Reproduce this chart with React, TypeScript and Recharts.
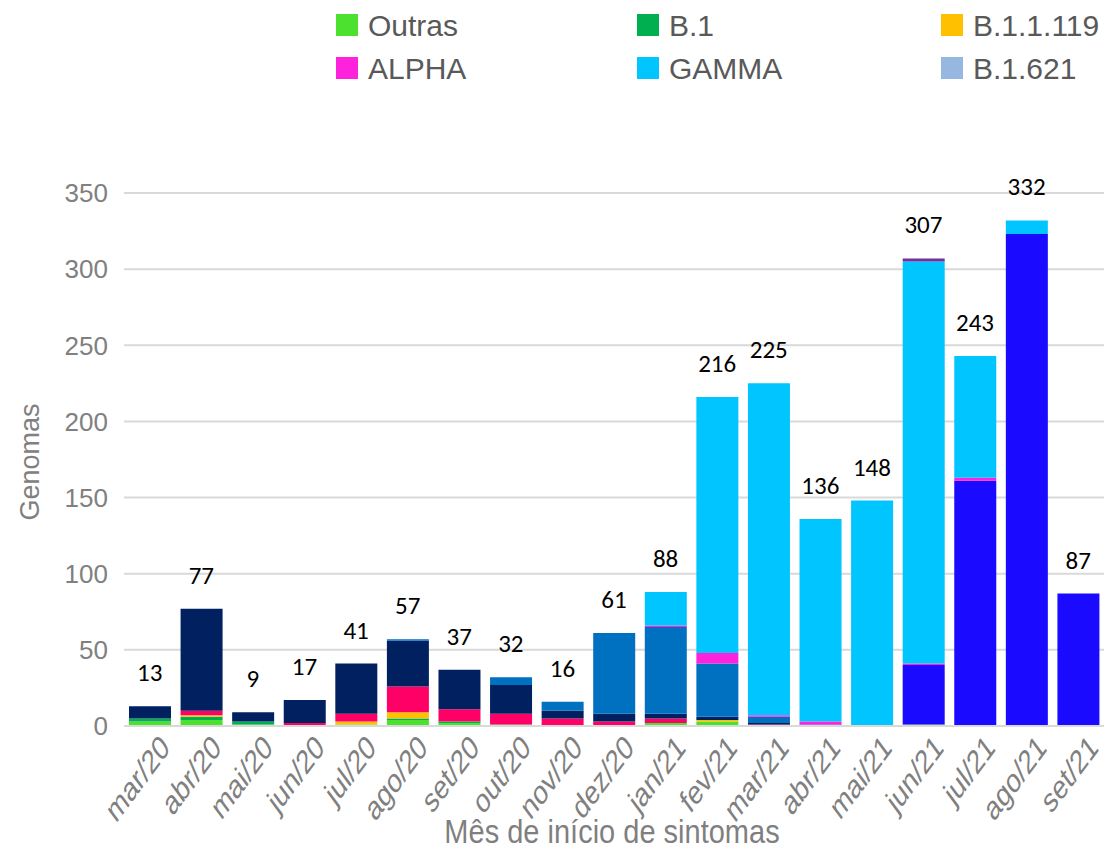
import { ComposedChart, Bar, Line, XAxis, YAxis, CartesianGrid, LabelList } from "recharts";

const months = [
  "mar/20", "abr/20", "mai/20", "jun/20", "jul/20", "ago/20", "set/20", "out/20", "nov/20", "dez/20",
  "jan/21", "fev/21", "mar/21", "abr/21", "mai/21", "jun/21", "jul/21", "ago/21", "set/21",
];

// values per lineage, in stacking order (bottom first)
const outras = [3, 4, 1, 0, 1, 4, 2, 1, 0, 0, 2, 3, 0, 0, 0, 1, 0, 0, 0];
const b1 = [2, 2, 2, 0, 0, 1, 1, 0, 0, 0, 0, 0, 0, 0, 0, 0, 0, 0, 0];
const b11119 = [0, 1, 0, 0, 2, 4, 0, 0, 0, 0, 0, 1, 0, 0, 0, 0, 0, 0, 0];
const b1128 = [0, 3, 0, 2, 5, 17, 8, 7, 5, 3, 3, 0, 1, 0, 0, 0, 0, 0, 0];
const b1133 = [8, 67, 6, 15, 33, 30, 26, 19, 5, 5, 3, 2, 1, 0, 0, 0, 0, 0, 0];
const p2 = [0, 0, 0, 0, 0, 1, 0, 5, 6, 53, 57, 35, 4, 1, 0, 0, 0, 0, 0];
const delta = [0, 0, 0, 0, 0, 0, 0, 0, 0, 0, 0, 0, 0, 0, 0, 39, 161, 323, 87];
const alpha = [0, 0, 0, 0, 0, 0, 0, 0, 0, 0, 1, 7, 1, 2, 0, 1, 2, 0, 0];
const gamma = [0, 0, 0, 0, 0, 0, 0, 0, 0, 0, 22, 168, 218, 133, 148, 264, 80, 9, 0];
const b1621 = [0, 0, 0, 0, 0, 0, 0, 0, 0, 0, 0, 0, 0, 0, 0, 0, 0, 0, 0];
const outrasVoc = [0, 0, 0, 0, 0, 0, 0, 0, 0, 0, 0, 0, 0, 0, 0, 2, 0, 0, 0];

const totals = [13, 77, 9, 17, 41, 57, 37, 32, 16, 61, 88, 216, 225, 136, 148, 307, 243, 332, 87];

const yTicks = [0, 50, 100, 150, 200, 250, 300, 350];

const series = [
  { key: "Outras", values: outras, color: "#4CE02F" },
  { key: "B.1", values: b1, color: "#00B050" },
  { key: "B.1.1.119", values: b11119, color: "#FFC000" },
  { key: "B.1.1.28", values: b1128, color: "#FF0066" },
  { key: "B.1.1.33", values: b1133, color: "#002060" },
  { key: "ZETA", values: p2, color: "#0070C0" },
  { key: "DELTA", values: delta, color: "#1A0AFF" },
  { key: "ALPHA", values: alpha, color: "#FF22DD" },
  { key: "GAMMA", values: gamma, color: "#00C5FF" },
  { key: "B.1.621", values: b1621, color: "#95B7E0" },
  { key: "Outras VOC", values: outrasVoc, color: "#7030A0" },
];

const legendItems = [
  { name: "Outras", color: "#4CE02F" },
  { name: "B.1", color: "#00B050" },
  { name: "B.1.1.119", color: "#FFC000" },
  { name: "ALPHA", color: "#FF22DD" },
  { name: "GAMMA", color: "#00C5FF" },
  { name: "B.1.621", color: "#95B7E0" },
];

const data = months.map((month, i) => {
  const row: Record<string, string | number> = { month, total: totals[i] };
  series.forEach((s) => {
    row[s.key] = s.values[i];
  });
  return row;
});

const FONT = "Liberation Sans, Arial, sans-serif";
const legendCols = [336, 637, 941];
const legendRows = [36, 79];

function MonthTick({ x, y, payload }: any) {
  return (
    <g transform={`translate(${x + 15},${y + 7}) scale(1,1.35) rotate(-45)`}>
      <text x={0} y={0} textAnchor="end" dominantBaseline="central" fontSize={25} fill="#808080" fontFamily={FONT}>
        {payload.value}
      </text>
    </g>
  );
}

function TotalLabel({ x, y, index }: any) {
  return (
    <text x={x} y={y - 25} textAnchor="middle" fontSize={25} fill="#000" fontFamily="Carlito, Lato, sans-serif">
      {totals[index]}
    </text>
  );
}

function XTitle({ viewBox }: any) {
  const cx = viewBox.x + viewBox.width / 2;
  return (
    <g transform={`translate(${cx - 2},843) scale(1,1.15)`}>
      <text x={0} y={0} textAnchor="middle" fontSize={29} fill="#7F7F7F" fontFamily={FONT}>
        Mês de início de sintomas
      </text>
    </g>
  );
}

function YTitle() {
  return (
    <g transform="translate(39,462) rotate(-90)">
      <text x={0} y={0} textAnchor="middle" fontSize={27} fill="#808080" fontFamily={FONT}>
        Genomas
      </text>
    </g>
  );
}

export default function App() {
  return (
    <div style={{ position: "absolute", left: 0, top: 0, width: 1109, height: 851, background: "#fff" }}>
      <svg width={1109} height={100} style={{ position: "absolute", left: 0, top: 0 }}>
        {legendItems.map((item, i) => {
          const cx = legendCols[i % 3];
          const by = legendRows[Math.floor(i / 3)];
          return (
            <g key={item.name}>
              <rect x={cx} y={by - 22} width={22} height={22} fill={item.color} />
              <text x={cx + 32} y={by} fontSize={30} fill="#595959" fontFamily={FONT}>
                {item.name}
              </text>
            </g>
          );
        })}
      </svg>
      <ComposedChart
        width={1109}
        height={851}
        data={data}
        margin={{ top: 193, right: 5, bottom: 0, left: 8 }}
        style={{ position: "absolute", left: 0, top: 0 }}
      >
        <CartesianGrid vertical={false} stroke="#D9D9D9" strokeWidth={2} />
        <XAxis
          dataKey="month"
          height={125}
          interval={0}
          tickLine={false}
          axisLine={{ stroke: "#D9D9D9", strokeWidth: 2 }}
          tick={<MonthTick />}
          label={<XTitle />}
        />
        <YAxis
          width={116}
          domain={[0, 350]}
          ticks={yTicks}
          tickLine={false}
          axisLine={false}
          tickMargin={10}
          tick={{ fontSize: 26, fill: "#808080", fontFamily: FONT }}
          label={<YTitle />}
        />
        {series.map((s) => (
          <Bar key={s.key} dataKey={s.key} stackId="a" fill={s.color} barSize={42} isAnimationActive={false} />
        ))}
        <Line
          dataKey="total"
          stroke="none"
          dot={false}
          activeDot={false}
          legendType="none"
          isAnimationActive={false}
        >
          <LabelList dataKey="total" content={<TotalLabel />} />
        </Line>
      </ComposedChart>
    </div>
  );
}
